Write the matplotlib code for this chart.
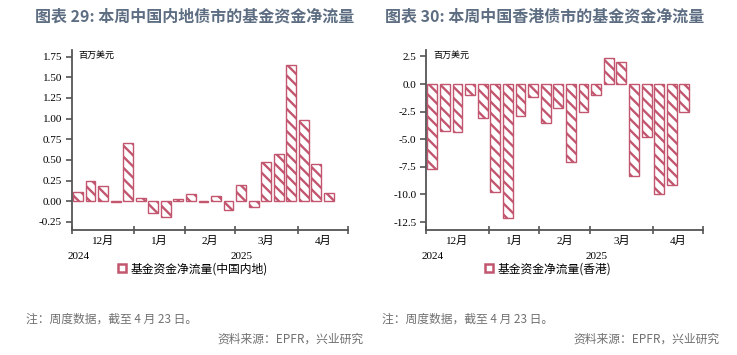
import matplotlib
matplotlib.use("Agg")
import matplotlib.pyplot as plt
from matplotlib.patches import Patch
import matplotlib.transforms as mtransforms

plt.rcParams['font.family'] = ['Noto Sans CJK SC', 'DejaVu Sans']
plt.rcParams['hatch.linewidth'] = 1.7

# ---- data ----
months = ['12月', '1月', '2月', '3月', '4月']
weeks_per_month = [5, 4, 4, 5, 4]   # slots per month group on the axis
years = ['2024', '2025']
mainland = [0.11, 0.24, 0.18, -0.01, 0.71, 0.035, -0.14, -0.19, 0.025, 0.085,
            -0.01, 0.065, -0.11, 0.19, -0.075, 0.47, 0.57, 1.645, 0.98, 0.445, 0.097]
hongkong = [-7.65, -4.23, -4.32, -1.0, -3.05, -9.78, -12.1, -2.9, -1.15, -3.56,
            -2.2, -7.07, -2.5, -1.0, 2.33, 2.02, -8.33, -4.77, -10.0, -9.15, -2.5]
titles = ['图表 29: 本周中国内地债市的基金资金净流量', '图表 30: 本周中国香港债市的基金资金净流量']
legends = ['基金资金净流量(中国内地)', '基金资金净流量(香港)']
unit = '百万美元'
note = '注：周度数据，截至 4 月 23 日。'
source = '资料来源：EPFR，兴业研究'

bar_color = '#c2566f'
title_color = '#5d6d82'
axis_color = '#555555'
serif = ['Liberation Serif', 'Noto Sans CJK SC']

fig = plt.figure(figsize=(7.37, 3.55), dpi=100)

def draw(ax, values, ylim, yticks, fmt, legend_label):
    x = list(range(len(values)))
    ax.bar(x, values, width=0.78, facecolor='white', edgecolor=bar_color,
           linewidth=1.0, hatch='\\\\\\')
    nslots = sum(weeks_per_month)
    ax.set_xlim(-0.5, nslots - 0.5)
    ax.set_ylim(*ylim)
    ax.set_yticks(yticks)
    ax.set_yticklabels([fmt % v for v in yticks], fontfamily=serif, fontsize=8)
    for s in ['top', 'right']:
        ax.spines[s].set_visible(False)
    for s in ['left', 'bottom']:
        ax.spines[s].set_color(axis_color)
        ax.spines[s].set_linewidth(1.3)
    # month boundaries
    bounds = [-0.5]
    for n in weeks_per_month:
        bounds.append(bounds[-1] + n)
    ax.set_xticks(bounds)
    ax.set_xticklabels([])
    ax.tick_params(axis='x', direction='inout', length=6, width=1.2, color=axis_color)
    ax.tick_params(axis='y', direction='out', length=4, width=1.2, color=axis_color, pad=3)
    trans = mtransforms.blended_transform_factory(ax.transData, ax.transAxes)
    for i, m in enumerate(months):
        c = (bounds[i] + bounds[i + 1]) / 2
        ax.text(c, -0.06, m, transform=trans, ha='center', va='center',
                fontsize=8, family=serif)
    ax.text(0.05, -0.148, years[0], transform=trans, ha='center', va='center',
            fontsize=8, family=serif)
    ax.text(13.0, -0.148, years[1], transform=trans, ha='center', va='center',
            fontsize=8, family=serif)
    ax.text(0.025, 0.97, unit, transform=ax.transAxes, ha='left', va='center', fontsize=6.5)
    h = Patch(facecolor='white', edgecolor=bar_color, linewidth=1.8)
    ax.legend([h], [legend_label], loc='center', bbox_to_anchor=(0.44, -0.215),
              frameon=False, fontsize=8.5, handlelength=0.7, handleheight=0.7,
              handletextpad=0.4, borderpad=0)

ax1 = fig.add_axes([0.0973, 0.352, 0.3745, 0.507])
draw(ax1, mainland, (-0.35, 1.83), [-0.25, 0, 0.25, 0.5, 0.75, 1.0, 1.25, 1.5, 1.75],
     '%.2f', legends[0])
ax2 = fig.add_axes([0.578, 0.352, 0.3763, 0.507])
draw(ax2, hongkong, (-13.22, 3.08), [-12.5, -10, -7.5, -5, -2.5, 0, 2.5],
     '%.1f', legends[1])

fig.text(35 / 737, 1 - 16 / 355, titles[0], ha='left', va='center',
         fontsize=11.5, fontweight='bold', color=title_color)
fig.text(385 / 737, 1 - 16 / 355, titles[1], ha='left', va='center',
         fontsize=11.5, fontweight='bold', color=title_color)

for nx, sx in [(26, 364), (382, 720)]:
    fig.text(nx / 737, 1 - 319 / 355, note, ha='left', va='center',
             fontsize=8.5, color='#707070')
    fig.text(sx / 737, 1 - 339 / 355, source, ha='right', va='center',
             fontsize=8.5, color='#707070')

fig.savefig('out.png', dpi=100)
